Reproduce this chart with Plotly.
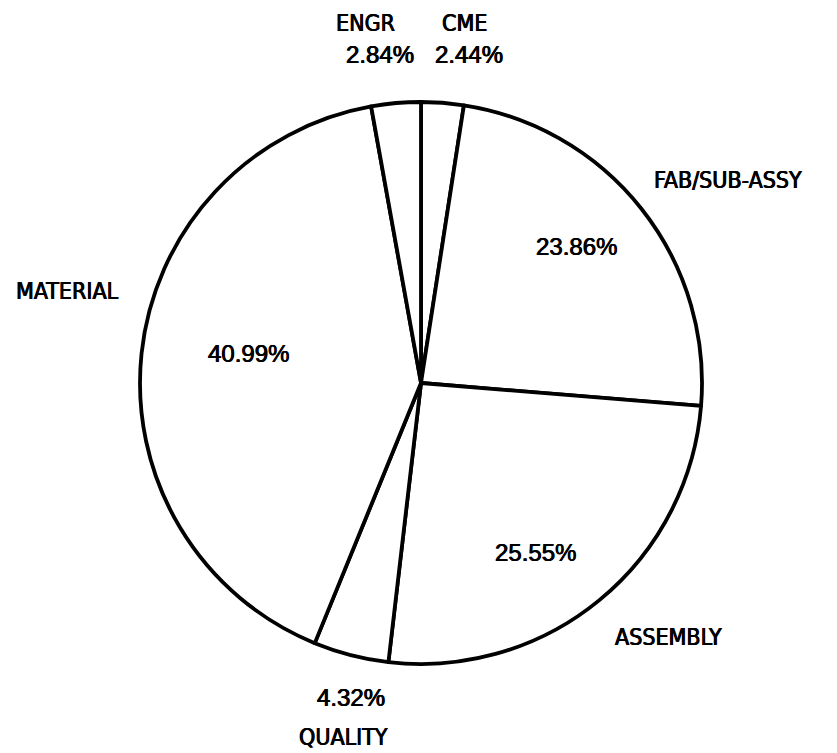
import plotly.graph_objects as go

# Data (clockwise from 12 o'clock)
categories = ["CME", "FAB/SUB-ASSY", "ASSEMBLY", "QUALITY", "MATERIAL", "ENGR"]
shares = [2.44, 23.86, 25.55, 4.32, 40.99, 2.84]

# the page body has an 8px default margin -> compensate
OFF = 8
W, H = 837 - OFF, 753 - OFF
cx, cy, r = 421 - OFF, 383 - OFF, 281  # pie centre / radius (figure px)

fig = go.Figure()
fig.add_trace(go.Pie(
    labels=categories,
    values=shares,
    sort=False,
    direction="clockwise",
    rotation=0,
    textinfo="none",
    hoverinfo="label+percent",
    marker=dict(colors=["white"] * len(categories),
                line=dict(color="black", width=3.8)),
    domain=dict(x=[(cx - r) / W, (cx + r) / W],
                y=[(H - cy - r) / H, (H - cy + r) / H]),
    showlegend=False,
))

# label placement (window pixel centres) for names and percentages
name_pos = {
    "CME": (464, 19),
    "FAB/SUB-ASSY": (728, 180),
    "ASSEMBLY": (668, 637),
    "QUALITY": (343, 737),
    "MATERIAL": (67, 291),
    "ENGR": (365, 19),
}
pct_pos = {
    "CME": (469, 54),
    "FAB/SUB-ASSY": (576, 246),
    "ASSEMBLY": (535, 552),
    "QUALITY": (351, 697),
    "MATERIAL": (248, 353),
    "ENGR": (380, 55),
}

heavy = "0.5px 0px 0px black, -0.4px 0px 0px black"
name_font = dict(family="DejaVu Sans Condensed, Liberation Sans, sans-serif", size=23,
                 color="black", shadow=heavy)
pct_font = dict(family="Liberation Sans, Arial, sans-serif", size=24, color="black", shadow=heavy)

annotations = []
for cat, val in zip(categories, shares):
    nx, ny = name_pos[cat]
    px, py = pct_pos[cat]
    if ny < 25:
        # keep the text box inside the figure: hang it from the top edge
        annotations.append(dict(text=cat, x=(nx - OFF) / W, y=1, xref="paper", yref="paper",
                                xanchor="center", yanchor="top", showarrow=False, font=name_font))
    else:
        annotations.append(dict(text=cat, x=(nx - OFF) / W, y=1 - (ny - OFF) / H,
                                xref="paper", yref="paper",
                                xanchor="center", yanchor="middle", showarrow=False, font=name_font))
    annotations.append(dict(text=f"{val:.2f}%", x=(px - OFF) / W, y=1 - (py - OFF) / H,
                            xref="paper", yref="paper",
                            xanchor="center", yanchor="middle", showarrow=False, font=pct_font))

fig.update_layout(
    width=W, height=H,
    margin=dict(l=0, r=0, t=0, b=0),
    paper_bgcolor="white",
    plot_bgcolor="white",
    annotations=annotations,
)

fig.write_html("out.html")
